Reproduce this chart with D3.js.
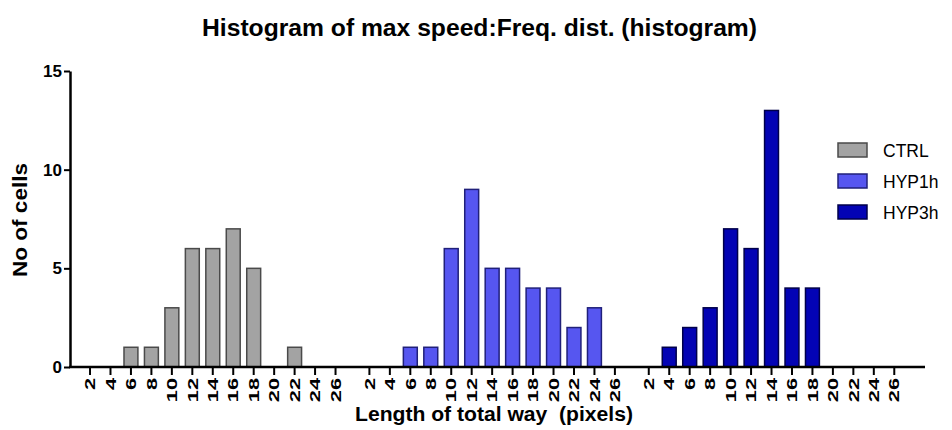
<!DOCTYPE html>
<html lang="en">
  <head>
    <meta charset="UTF-8" />
    <title>Histogram of max speed</title>
    <script src="https://cdn.jsdelivr.net/npm/d3@7/dist/d3.min.js"></script>
    <style>
      body { margin: 0; background: #fff; }
      text { font-family: "Liberation Sans", Arial, sans-serif; }
    </style>
  </head>

  <body>
    <script>
      const width = 952;
      const height = 430;

      // data
      const bins = [2, 4, 6, 8, 10, 12, 14, 16, 18, 20, 22, 24, 26];
      const groups = ["CTRL", "HYP1h", "HYP3h"];
      const ctrl = [0, 0, 1, 1, 3, 6, 6, 7, 5, 0, 1, 0, 0];
      const hyp1h = [0, 0, 1, 1, 6, 9, 5, 5, 4, 4, 2, 3, 0];
      const hyp3h = [0, 1, 2, 3, 7, 6, 13, 4, 4, 0, 0, 0, 0];
      const yTicks = [0, 5, 10, 15];

      const series = [ctrl, hyp1h, hyp3h];
      const fills = ["#a3a3a3", "#5656f0", "#0303b4"];
      const strokes = ["#4a4a4a", "#20207a", "#00004a"];

      const svg = d3
        .select("body")
        .append("svg")
        .attr("width", width)
        .attr("height", height);

      // scales
      const y = d3.scaleLinear().domain([0, 15]).range([367, 71]);
      const xGroup = d3
        .scaleBand()
        .domain(groups)
        .range([79.8, 904.5])
        .paddingInner(0.048)
        .paddingOuter(0);
      const xBin = d3
        .scaleBand()
        .domain(bins)
        .range([0, xGroup.bandwidth()])
        .paddingInner(0.32)
        .paddingOuter(0.16);

      // title
      svg
        .append("text")
        .attr("x", 479.5)
        .attr("y", 36)
        .attr("text-anchor", "middle")
        .attr("font-size", 23)
        .attr("font-weight", "bold")
        .attr("textLength", 555)
        .attr("lengthAdjust", "spacingAndGlyphs")
        .text("Histogram of max speed:Freq. dist. (histogram)");

      // bars, one group per series
      const group = svg
        .selectAll("g.series")
        .data(groups)
        .join("g")
        .attr("class", "series")
        .attr("transform", (d) => `translate(${xGroup(d)},0)`);

      group.each(function (g, i) {
        const rows = bins
          .map((b, j) => ({ bin: b, value: series[i][j] }))
          .filter((d) => d.value > 0);
        d3.select(this)
          .selectAll("rect")
          .data(rows)
          .join("rect")
          .attr("x", (d) => xBin(d.bin))
          .attr("y", (d) => y(d.value))
          .attr("width", xBin.bandwidth())
          .attr("height", (d) => y(0) - y(d.value))
          .attr("fill", fills[i])
          .attr("stroke", strokes[i])
          .attr("stroke-width", 1.5);

        // bin axis for this group
        const ax = d3
          .select(this)
          .append("g")
          .attr("transform", `translate(0,${y(0)})`)
          .call(d3.axisBottom(xBin).tickSize(8).tickSizeOuter(0));
        ax.select(".domain").remove();
        ax.selectAll(".tick line")
          .attr("stroke", "#000")
          .attr("stroke-width", 2);
        ax.selectAll(".tick text")
          .attr("x", 0)
          .attr("y", 0)
          .attr("dy", "0.36em")
          .attr("text-anchor", "end")
          .attr("transform", "translate(0,11) rotate(-90) scale(1.5,1)")
          .attr("font-size", 14.5)
          .attr("font-weight", "bold")
          .attr("fill", "#000");
      });

      // x axis line
      svg
        .append("line")
        .attr("x1", 69)
        .attr("x2", 925)
        .attr("y1", y(0))
        .attr("y2", y(0))
        .attr("stroke", "#000")
        .attr("stroke-width", 2.5);

      // y axis
      const yAxis = svg
        .append("g")
        .attr("transform", "translate(70,0)")
        .call(d3.axisLeft(y).tickValues(yTicks).tickSize(6).tickSizeOuter(0));
      yAxis.select(".domain").attr("stroke-width", 2.5);
      yAxis.selectAll(".tick line").attr("stroke-width", 2);
      yAxis.selectAll(".tick text")
        .attr("x", -8)
        .attr("font-size", 17)
        .attr("font-weight", "bold")
        .attr("fill", "#000");

      // axis titles
      svg
        .append("text")
        .attr("x", 494)
        .attr("y", 421)
        .attr("text-anchor", "middle")
        .attr("font-size", 19.5)
        .attr("font-weight", "bold")
        .attr("textLength", 278)
        .attr("lengthAdjust", "spacingAndGlyphs")
        .style("white-space", "pre")
        .text("Length of total way  (pixels)");

      svg
        .append("text")
        .attr("transform", "translate(27,220) rotate(-90)")
        .attr("text-anchor", "middle")
        .attr("font-size", 20)
        .attr("font-weight", "bold")
        .attr("textLength", 114)
        .attr("lengthAdjust", "spacingAndGlyphs")
        .text("No of cells");

      // legend
      const legend = svg
        .append("g")
        .selectAll("g")
        .data(groups)
        .join("g")
        .attr("transform", (d, i) => `translate(838,${143 + i * 31})`);
      legend
        .append("rect")
        .attr("width", 29)
        .attr("height", 14)
        .attr("fill", (d, i) => fills[i])
        .attr("stroke", (d, i) => strokes[i])
        .attr("stroke-width", 1.5);
      legend
        .append("text")
        .attr("x", 45)
        .attr("y", 13.5)
        .attr("font-size", 17.5)
        .text((d) => d);
    </script>
  </body>
</html>
